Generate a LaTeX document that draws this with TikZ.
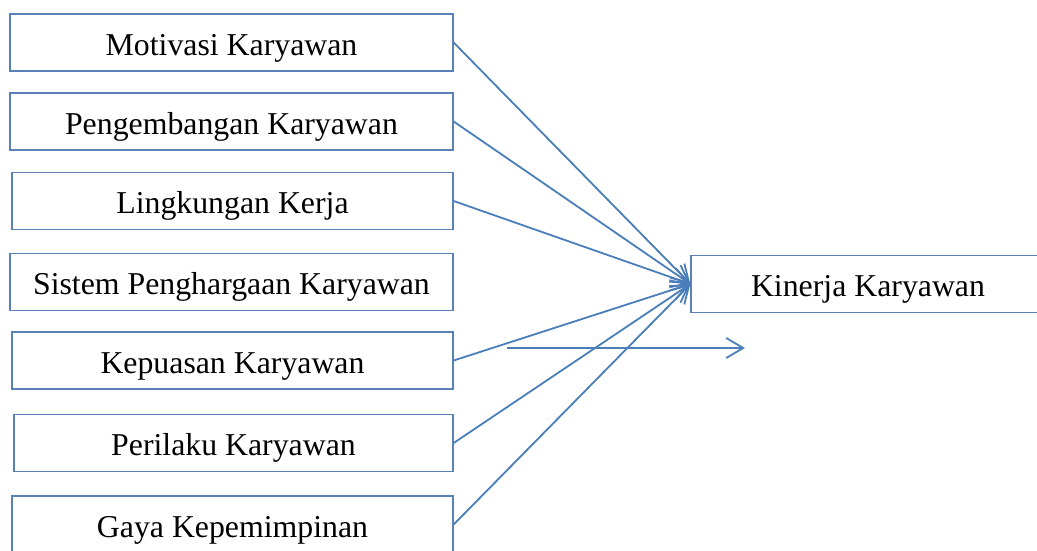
\documentclass[tikz,border=0pt]{standalone}
\usepackage{fontspec}
\setmainfont{Liberation Serif}
\usetikzlibrary{arrows.meta}
\definecolor{linec}{HTML}{4A7EBB}
\definecolor{boxc}{HTML}{5A80B8}
\tikzset{
  fbox/.style={draw=boxc, line width=1.3pt, rectangle, inner sep=0pt,
    minimum height=57pt, text height=25pt, text depth=0pt,
    font=\fontsize{31.8}{36}\selectfont, text=black},
  conn/.style={draw=linec, line width=1.8pt, -{Straight Barb[length=17pt,width=20pt,line width=1.8pt]}}
}
\begin{document}
\begin{tikzpicture}[x=1pt,y=-1pt]
\useasboundingbox (0,0) rectangle (1037,550);
\clip (0,0) rectangle (1037,550);
\fill[white] (0,0) rectangle (1037,550);
\node[fbox, minimum width=443pt] (b1) at (231.5,42.5) {Motivasi Karyawan};
\node[fbox, minimum width=443pt] (b2) at (231.5,121.5) {Pengembangan Karyawan};
\node[fbox, minimum width=441pt] (b3) at (232.5,201) {Lingkungan Kerja};
\node[fbox, minimum width=443pt] (b4) at (231.5,282) {Sistem Penghargaan Karyawan};
\node[fbox, minimum width=441pt] (b5) at (232.5,360.5) {Kepuasan Karyawan};
\node[fbox, minimum width=439pt] (b6) at (233.5,443) {Perilaku Karyawan};
\node[fbox, minimum width=441pt] (b7) at (232.5,524.5) {Gaya Kepemimpinan};
\node[fbox, minimum width=354pt] (k) at (868,284) {Kinerja Karyawan};
\coordinate (s1) at (507,348);
\coordinate (s2) at (745,348);
\foreach \b in {b1,b2,b3,b5,b6,b7}{
  \draw[conn] (\b.east) -- (k.west);
}
\draw[conn] (s1) -- (s2);
\end{tikzpicture}
\end{document}
